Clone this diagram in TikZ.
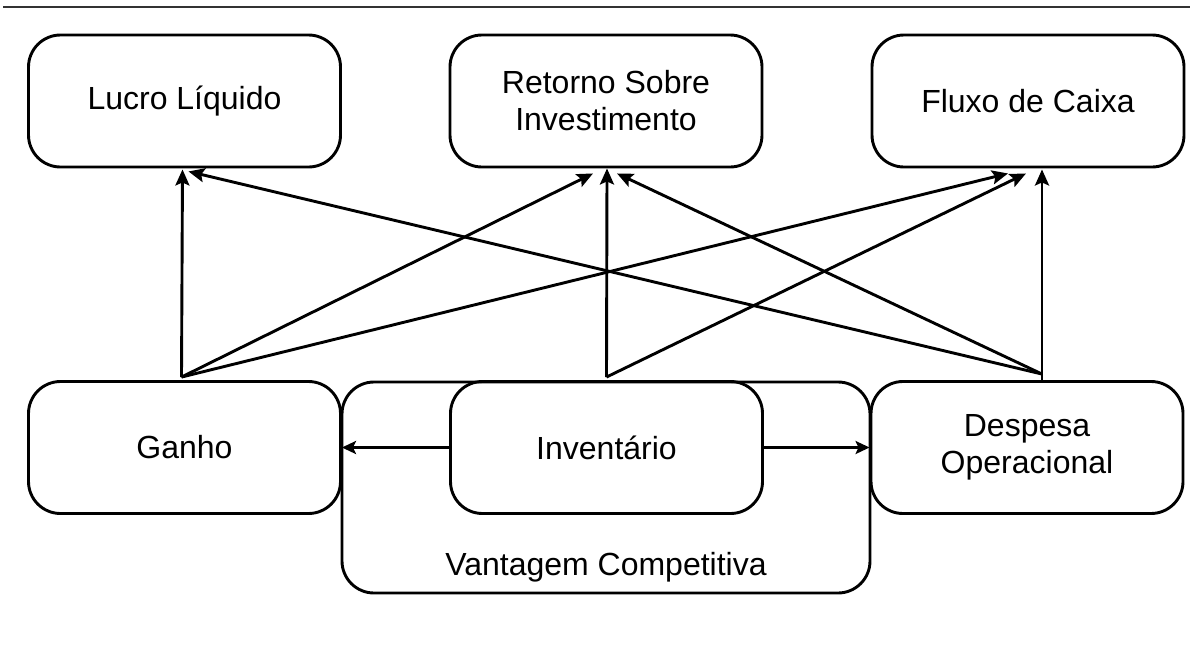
\documentclass[tikz,border=0pt]{standalone}
\usepackage{fontspec}
\setmainfont{Liberation Sans}
\usetikzlibrary{arrows.meta,calc}
\begin{document}
\begin{tikzpicture}[x=1pt,y=-1pt,
  box/.style={draw, line width=2.9pt, rounded corners=32pt,
    minimum width=312pt, minimum height=132pt, inner sep=0pt,
    align=center, font=\fontsize{32}{37}\selectfont},
  conn/.style={line width=2.9pt,
    -{Stealth[length=16pt,width=14pt,inset=3pt]}},
  side/.style={line width=2.7pt,
    -{Stealth[length=14pt,width=13pt,inset=3pt]}}]
\useasboundingbox (0,0) rectangle (1193,651);
% rule across the top
\draw[line width=1.3pt, black!80] (3,7) coordinate (ruleL) -- (1190,7) coordinate (ruleR);

% container for the competitive advantage group
\node[box, minimum width=528pt, minimum height=211pt] (vantagem) at (606,487.5) {};
\node[font=\fontsize{32}{37}\selectfont] (vtxt) at (606,567) {Vantagem Competitiva};

% result measures
\node[box] (lucro)   at (184.5,101) {Lucro Líquido};
\node[box] (retorno) at (606,101)   {Retorno Sobre\\Investimento};
\node[box] (fluxo)   at (1028,101)  {Fluxo de Caixa};

% operational measures
\node[box] (ganho)     at (184.5,447.5) {Ganho};
\node[box] (inventario) at (606.5,447.5) {Inventário};
\node[box] (despesa)   at (1027,447.5) {Despesa\\Operacional};

% starting points on top of the operational measures
\coordinate (g0) at ([xshift=-3pt,yshift=3pt]ganho.north);
\coordinate (i0) at ([yshift=3pt]inventario.north);
\coordinate (d0) at ([xshift=15pt,yshift=6pt]despesa.north);

% ends under the result measures
\coordinate (lA) at ([xshift=-2pt,yshift=-1pt]lucro.south);
\coordinate (lB) at ([xshift=4pt,yshift=-3pt]lucro.south);
\coordinate (rA) at ([xshift=-13pt,yshift=-5pt]retorno.south);
\coordinate (rB) at ([xshift=1pt,yshift=0pt]retorno.south);
\coordinate (rC) at ([xshift=11pt,yshift=-5pt]retorno.south);
\coordinate (fA) at ([xshift=-20pt,yshift=-5pt]fluxo.south);
\coordinate (fB) at ([xshift=-2pt,yshift=-5pt]fluxo.south);
\coordinate (fC) at ([xshift=14pt,yshift=-1pt]fluxo.south);

% Ganho
\draw[conn] (g0) -- (lA);
\draw[conn] (g0) -- (rA);
\draw[conn] (g0) -- (fA);
% Inventário
\draw[conn] (i0) -- (rB);
\draw[conn] (i0) -- (fB);
% Despesa Operacional
\draw[conn] (d0) -- (fC);
\draw[conn] (d0) -- (rC);
\draw[conn] (d0) -- (lB);
\draw[line width=2.9pt] (d0) -- (despesa.north -| d0);

% Inventário to its neighbours
\draw[side] (inventario.west) -- (ganho.east);
\draw[side] (inventario.east) -- (despesa.west);
\end{tikzpicture}
\end{document}
